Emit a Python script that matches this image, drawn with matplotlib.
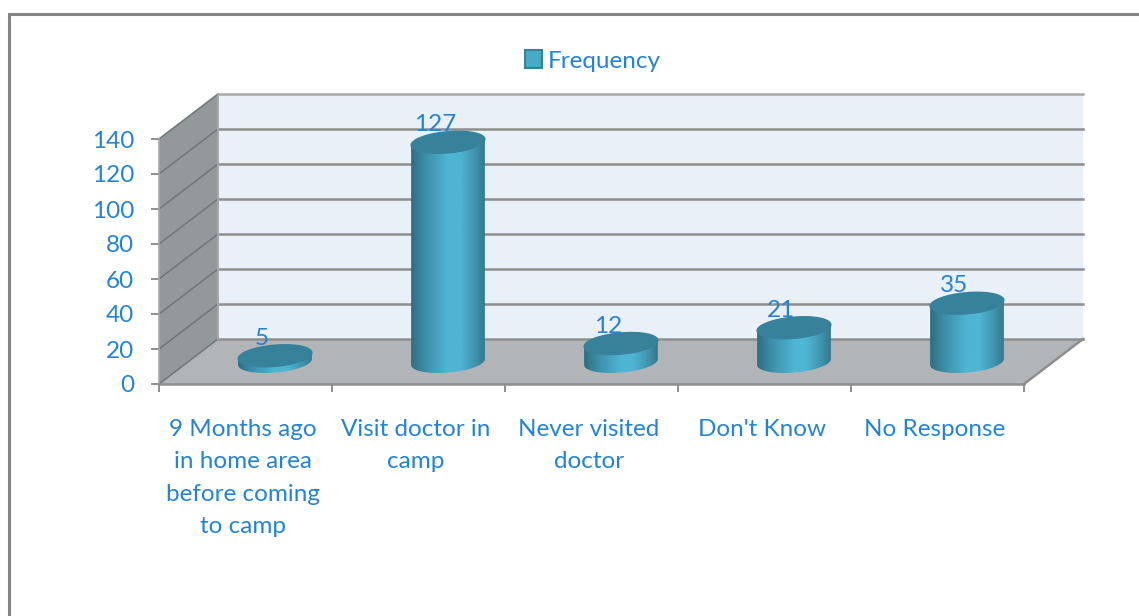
''' Frequency chart, 3D style cylinders drawn on a flat axes '''

import numpy as np
import matplotlib
matplotlib.use("Agg")
import matplotlib.pyplot as plt
from matplotlib.colors import LinearSegmentedColormap
from matplotlib.lines import Line2D
from matplotlib.patches import Patch, Polygon, Rectangle

categories = ["9 Months ago\nin home area\nbefore coming\nto camp", "Visit doctor in\ncamp",
              "Never visited\ndoctor", "Don't Know", "No Response"]
frequency = [5, 127, 12, 21, 35]
value_ticks = [0, 20, 40, 60, 80, 100, 120, 140]
series_name = "Frequency"

W, H = 1139, 616
TEXT = "#2583d2"
GRID = "#8e8e8e"
FONT = 17.5

plt.rcParams["font.family"] = ["Lato", "DejaVu Sans"]

fig = plt.figure(figsize=(W / 100, H / 100), dpi=100)
ax = fig.add_axes([159 / W, (H - 384) / H, 865 / W, 245 / H])
ax.set_xlim(0, len(categories))
ax.set_ylim(0, value_ticks[-1])

# size of one data unit in pixels, used for the oblique depth
px_x = 865 / len(categories)
px_y = 245 / value_ticks[-1]
depth_x = 59 / px_x
depth_y = 45 / px_y
x_end = len(categories)

# side wall, back wall and floor
side = Polygon([(0, 0), (depth_x, depth_y), (depth_x, value_ticks[-1] + depth_y), (0, value_ticks[-1])],
               closed=True, facecolor="#93989a", edgecolor="none", clip_on=False, zorder=1)
back = Rectangle((depth_x, depth_y), x_end, value_ticks[-1], facecolor="#e9f0f7", edgecolor="none",
                 clip_on=False, zorder=1)
floor = Polygon([(0, 0), (x_end, 0), (x_end + depth_x, depth_y), (depth_x, depth_y)],
                closed=True, facecolor="#b1b5b8", edgecolor="none", clip_on=False, zorder=1)
ax.add_patch(side)
ax.add_patch(back)
ax.add_patch(floor)

for v in value_ticks:
    grid_color = "#a9a9a9" if v == value_ticks[-1] else GRID
    ax.plot([depth_x, x_end + depth_x], [v + depth_y, v + depth_y], color=grid_color, lw=1.8,
            clip_on=False, zorder=2)
    ax.plot([0, depth_x], [v, v + depth_y], color="#74787a", lw=1.2, clip_on=False, zorder=2)
ax.plot([x_end, x_end + depth_x], [0, depth_y], color=GRID, lw=1.8, clip_on=False, zorder=2)
ax.plot([depth_x, depth_x], [0 + depth_y, value_ticks[-1] + depth_y], color="#a8a8a8", lw=1.4,
        clip_on=False, zorder=2)
ax.plot([0, 0], [0, value_ticks[-1]], color="#a8a8a8", lw=1.2, clip_on=False, zorder=2)

# cylinders
shade = LinearSegmentedColormap.from_list("shade", ["#2f6d82", "#3b8ba5", "#46a0bd", "#4fb5d3", "#4fb5d3",
                                                    "#439ab6", "#35798f"])
gradient = np.linspace(0, 1, 128).reshape(1, -1)
radius_x = 35.5 / px_x
skew_x = 10 / px_x
skew_y = 11 / px_y
sink = 3 / px_y
half_w = np.hypot(radius_x, skew_x)
t0 = np.arctan2(skew_x, radius_x)


def ring(cx, cy, start, stop):
    t = np.linspace(start, stop, 60)
    return cx + radius_x * np.cos(t) + skew_x * np.sin(t), cy + skew_y * np.sin(t)


for i, value in enumerate(frequency):
    cx = i + 0.5 + depth_x / 2
    base = depth_y / 2 - 0.5 / px_y
    top = value + depth_y / 2 - sink
    xb, yb = ring(cx, base, t0 + np.pi, t0 + 2 * np.pi)
    xt, yt = ring(cx, top, t0, t0 + np.pi)
    outline = Polygon(np.column_stack([np.r_[xb, xt], np.r_[yb, yt]]), closed=True, transform=ax.transData,
                      facecolor="none", edgecolor="none")
    ax.add_patch(outline)
    im = ax.imshow(gradient, cmap=shade, aspect="auto", zorder=3,
                   extent=[cx - half_w, cx + half_w, base - skew_y, top + skew_y])
    im.set_clip_path(outline)
    xc, yc = ring(cx, top, 0, 2 * np.pi)
    ax.fill(xc, yc, color="#37829a", zorder=4, clip_on=False)
    ax.annotate(str(value), xy=(i + 0.5, top), xytext=(12, 5), textcoords="offset points", ha="center",
                va="bottom", color=TEXT, fontsize=FONT, annotation_clip=False, zorder=5)

ax.set_xlim(0, len(categories))
ax.set_ylim(0, value_ticks[-1])

for spine in ax.spines.values():
    spine.set_visible(False)
ax.spines["bottom"].set_visible(True)
ax.spines["bottom"].set_color(GRID)
ax.spines["bottom"].set_linewidth(1.8)
ax.patch.set_visible(False)

ax.set_xticks(range(len(categories) + 1))
ax.set_xticklabels([])
ax.set_yticks(value_ticks)
ax.tick_params(axis="x", length=6, width=1.4, color=GRID)
ax.tick_params(axis="y", length=6, width=1.4, color=GRID, labelcolor=TEXT, labelsize=FONT, pad=12)

for i, label in enumerate(categories):
    ax.annotate(label, xy=(i + 0.5, 0), xytext=(-2, -25), textcoords="offset points", ha="center", va="top",
                color=TEXT, fontsize=FONT, linespacing=1.68, annotation_clip=False)

fig.legend(handles=[Patch(facecolor="#4aa9c7", edgecolor="#37829a", linewidth=1.5, label=series_name)],
           loc="center", bbox_to_anchor=(593 / W, 1 - 61 / H), frameon=False, fontsize=FONT,
           handlelength=0.7, handleheight=0.7, handletextpad=0.25, labelcolor=TEXT)

# outer frame of the chart area
fig.add_artist(Line2D([9 / W, 9 / W, 1 + 2 / W], [0, 1 - 13.5 / H, 1 - 13.5 / H], color="#858585", lw=2.2,
                      transform=fig.transFigure, solid_joinstyle="miter"))

fig.savefig("out.png", dpi=100)
